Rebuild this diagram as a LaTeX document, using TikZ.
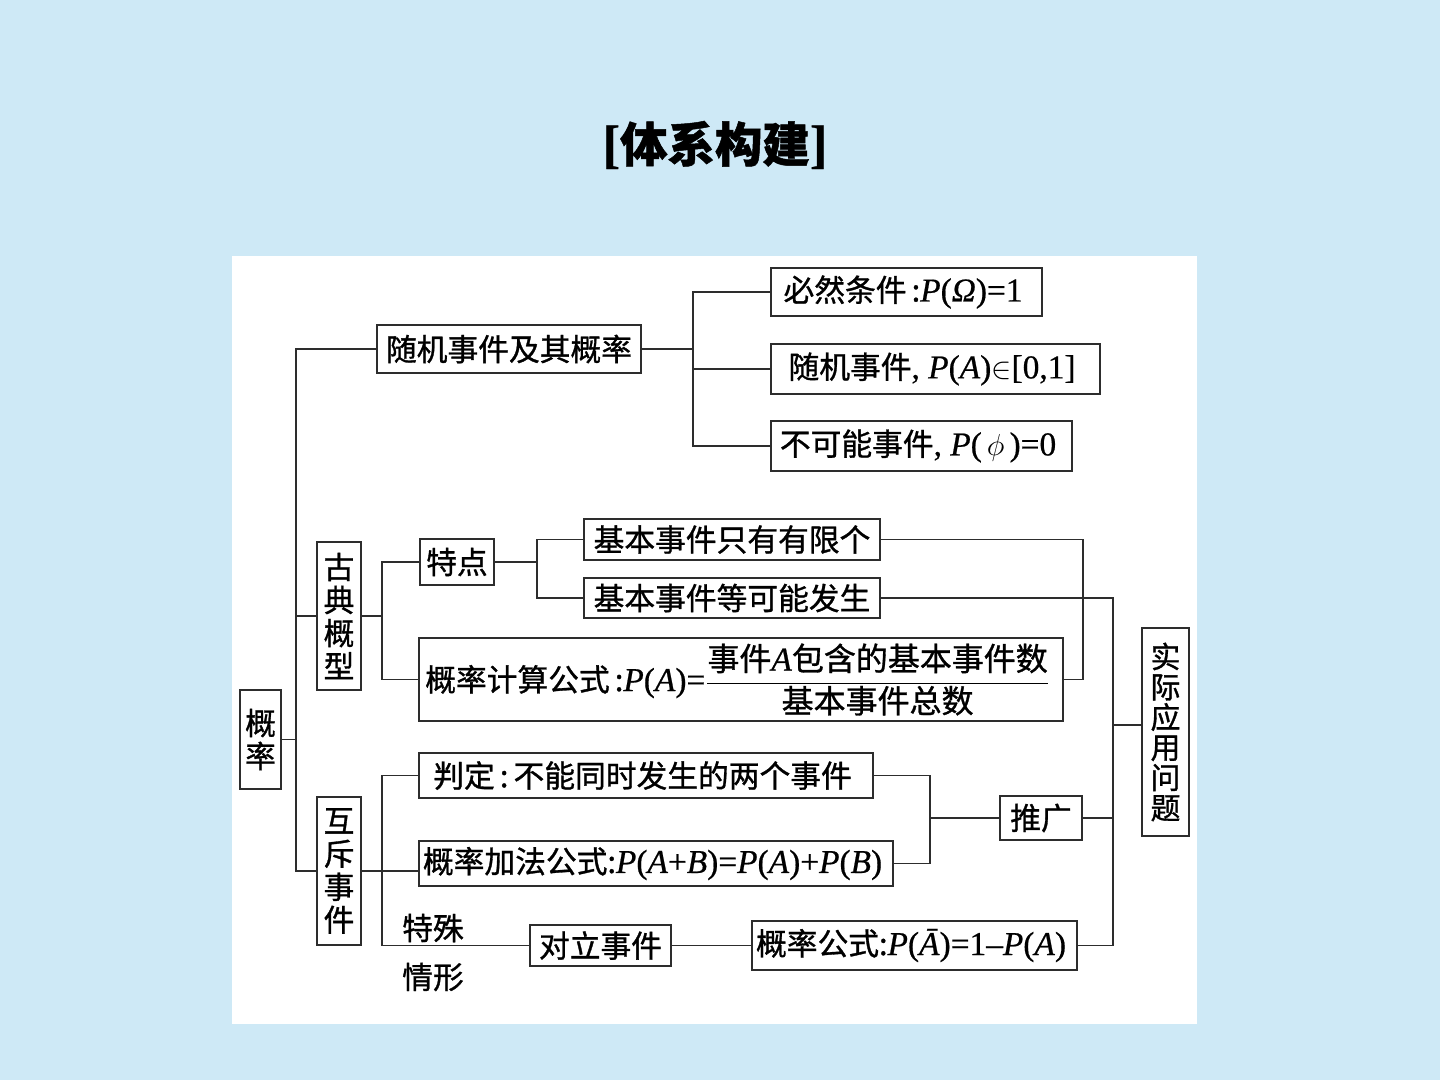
\documentclass[tikz,border=0pt]{standalone}
\usepackage{fontspec}
\setmainfont{Liberation Serif}[FakeBold=0.6]
\newfontfamily\cjk{Noto Sans CJK SC}[FakeBold=1]
\newcommand\fm[1]{{\rmfamily\fontsize{19}{21}\selectfont #1}}
\definecolor{bgblue}{RGB}{206,233,246}
\definecolor{linegray}{RGB}{45,45,45}

\begin{document}
\begin{tikzpicture}[
        x=0.02cm, y=-0.02cm,
        box/.style={rectangle, draw=linegray, line width=1.1pt, fill=white, inner sep=1pt, align=center, font=\cjk\fontsize{17.5}{21}\selectfont},
        vbox/.style={box, font=\cjk\fontsize{17.5}{18.8}\selectfont},
        tag/.style={inner sep=0pt, font=\cjk\fontsize{17.5}{21}\selectfont},
        link/.style={draw=linegray, line width=1.1pt}
    ]
        % Background
        \fill[bgblue] (0,0) rectangle (1440,1080);
        \fill[white] (232,256) rectangle (1197,1024);
        \useasboundingbox (0,0) rectangle (1440,1080);

        % Title
        \node[font=\cjk\bfseries\fontsize{27}{30}\selectfont] (title) at (715,145) {\fm{\fontsize{30}{30}\selectfont[}体系构建\fm{\fontsize{30}{30}\selectfont]}};

        % Root
        \node[vbox, minimum width=0.82cm, minimum height=1.98cm] (gl) at (260.5,739.5) {概\\率};

        % Random events
        \node[box, minimum width=5.28cm, minimum height=0.96cm] (sj) at (509,349) {随机事件及其概率};
        \node[box, minimum width=5.42cm, minimum height=0.96cm] (br) at (906.5,292) {
            必然条件\,:\fm{\textit{P}(\textit{Ω})=1}
        };
        \node[box, minimum width=6.58cm, minimum height=1cm] (sjA) at (935.5,369) {
            随机事件\fm{, \textit{P}(\textit{A})$\in$[0,1]}
        };
        \node[box, minimum width=6.02cm, minimum height=1cm] (bk) at (921.5,446) {
            不可能事件\fm{, \textit{P}($\,\phi\,$)=0}
        };

        % Classical model
        \node[vbox, minimum width=0.88cm, minimum height=2.96cm] (gd) at (339,616) {古\\典\\概\\型};
        \node[box, minimum width=1.48cm, minimum height=0.92cm] (td) at (457,562) {特点};
        \node[box, minimum width=5.92cm, minimum height=0.82cm] (yx) at (732,539.5) {基本事件只有有限个};
        \node[box, minimum width=5.92cm, minimum height=0.8cm] (dk) at (732,598) {基本事件等可能发生};
        \node[box, minimum width=12.88cm, minimum height=1.66cm] (gs) at (741,679.5) {
            概率计算公式\,:\fm{\textit{P}(\textit{A})=}$\displaystyle\frac{\hbox{\fontsize{18.2}{21}\selectfont 事件\fm{\textit{A}}包含的基本事件数}}{\hbox{\fontsize{18.2}{21}\selectfont 基本事件总数}}$
        };

        % Mutually exclusive events
        \node[vbox, minimum width=0.88cm, minimum height=2.96cm] (hc) at (339,871) {互\\斥\\事\\件};
        \node[box, minimum width=9.08cm, minimum height=0.9cm] (pd) at (646,775.5) {
            判定\,:\,不能同时发生的两个事件
        };
        \node[box, minimum width=9.48cm, minimum height=0.9cm, inner sep=0pt] (jf) at (656,863.5) {
            概率加法公式:\fm{\textit{P}(\textit{A}+\textit{B})=\textit{P}(\textit{A})+\textit{P}(\textit{B})}
        };
        \node[box, minimum width=2.82cm, minimum height=0.82cm] (dl) at (600.5,945.5) {对立事件};
        \node[box, minimum width=6.5cm, minimum height=0.98cm, inner sep=0pt] (gsA) at (914.5,945.5) {
            概率公式:\fm{\textit{P}(\textit{Ā})=1–\textit{P}(\textit{A})}
        };
        \node[tag] (ts) at (433,928) {特殊};
        \node[tag] (qx) at (433,977) {情形};
        \node[box, minimum width=1.64cm, minimum height=0.88cm] (tuig) at (1041,818) {推广};

        % Applications
        \node[box, minimum width=0.94cm, minimum height=4.16cm, font=\cjk\fontsize{17}{17.2}\selectfont] (sy) at (1165.5,732) {实\\际\\应\\用\\问\\题};

        % Junctions
        \coordinate (j1) at (296,0);
        \coordinate (j2) at (693,0);
        \coordinate (j3) at (382,0);
        \coordinate (j4) at (537,0);
        \coordinate (j5) at (1083,0);
        \coordinate (j6) at (1113,0);
        \coordinate (j7) at (930,0);

        % Trunk
        \draw[link] (sj.west) -- (sj.west -| j1) -- (hc.west -| j1) -- (hc.west);
        \draw[link] (gd.west) -- (gd.west -| j1);
        \draw[link] (gl.east) -- (gl.east -| j1);

        % Random events links
        \draw[link] (sj.east) -- (sj.east -| j2);
        \draw[link] (br.west) -- (br.west -| j2) -- (bk.west -| j2) -- (bk.west);
        \draw[link] (sjA.west) -- (sjA.west -| j2);

        % Classical model links
        \draw[link] (gd.east) -- (gd.east -| j3);
        \draw[link] (td.west) -- (td.west -| j3) -- (gs.west -| j3) -- (gs.west);
        \draw[link] (td.east) -- (td.east -| j4);
        \draw[link] (yx.west) -- (yx.west -| j4) -- (dk.west -| j4) -- (dk.west);
        \draw[link] (yx.east) -- (yx.east -| j5) -- (gs.east -| j5) -- (gs.east);

        % Mutually exclusive links
        \draw[link] (hc.east) -- (hc.east -| jf.west);
        \draw[link] (pd.west) -- (pd.west -| j3) -- (dl.west -| j3) -- (dl.west);
        \draw[link] (pd.east) -- (pd.east -| j7) -- (jf.east -| j7) -- (jf.east);
        \draw[link] (tuig.west) -- (tuig.west -| j7);
        \draw[link] (dl.east) -- (gsA.west);

        % Applications links
        \draw[link] (dk.east) -- (dk.east -| j6) -- (gsA.east -| j6) -- (gsA.east);
        \draw[link] (tuig.east) -- (tuig.east -| j6);
        \draw[link] ([yshift=0.14cm]sy.west) -- ([yshift=0.14cm]sy.west -| j6);
    \end{tikzpicture}
\end{document}
